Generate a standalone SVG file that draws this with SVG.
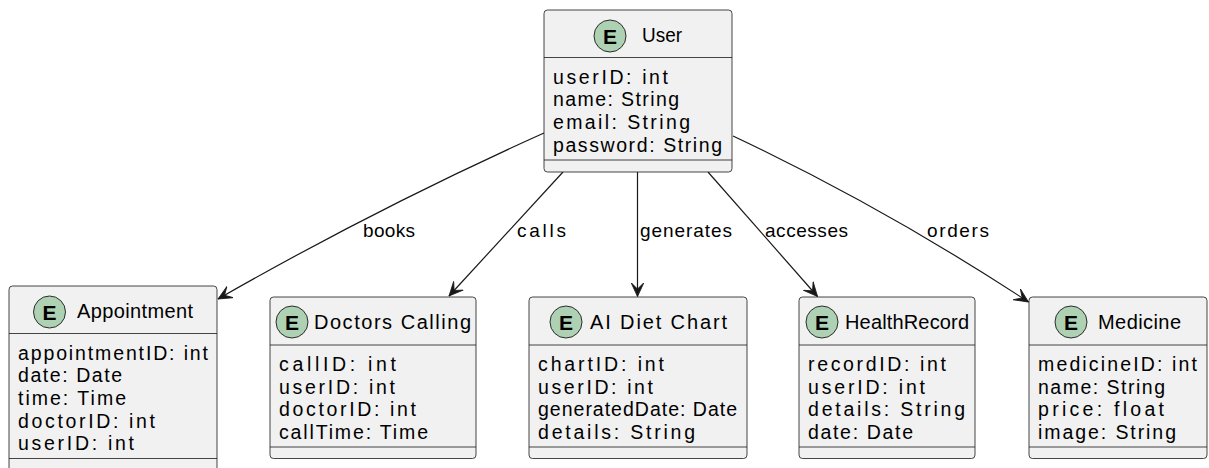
<svg xmlns="http://www.w3.org/2000/svg" width="1209" height="468" viewBox="0 0 1209 468">
  <style>
    .box { fill: #F1F1F1; stroke: #181818; stroke-width: 0.8; }
    .sep { stroke: #181818; stroke-width: 0.8; }
    .badge { fill: #ADD1B2; stroke: #181818; stroke-width: 0.9; }
    .badge-letter { font-family: "Liberation Sans", Arial, sans-serif; font-size: 21px; font-weight: bold; fill: #000; text-anchor: middle; }
    .title { font-family: "Liberation Sans", Arial, sans-serif; font-size: 20px; fill: #000; }
    .attr { font-family: "Liberation Sans", Arial, sans-serif; font-size: 19.5px; fill: #000; }
    .edge { fill: none; stroke: #181818; stroke-width: 1.2; }
    .label { font-family: "Liberation Sans", Arial, sans-serif; font-size: 19px; fill: #000; }
  </style>
  <defs>
    <marker id="arrow" markerUnits="userSpaceOnUse" viewBox="0 0 15 14" refX="14" refY="7" markerWidth="15" markerHeight="14" orient="auto">
      <path d="M14,7 L0,0.5 L6.5,7 L0,13.5 Z" fill="#181818" stroke="#181818" stroke-width="0.8" stroke-linejoin="miter"/>
    </marker>
  </defs>

  <rect width="1209" height="468" fill="#FFFFFF"/>

  <!-- relationships -->
  <g id="connectors">
    <path class="edge" marker-end="url(#arrow)" d="M544,133 C432.6,183 324,238.3 218,299"/>
    <path class="edge" marker-end="url(#arrow)" d="M563,172 L449,296"/>
    <path class="edge" marker-end="url(#arrow)" d="M637.5,172 L637.5,296.5"/>
    <path class="edge" marker-end="url(#arrow)" d="M708,172 L817.5,296.5"/>
    <path class="edge" marker-end="url(#arrow)" d="M733,136 C835.2,184.3 933.6,239.7 1028.5,302"/>
    <text class="label" x="363" y="237" textLength="52" lengthAdjust="spacing">books</text>
    <text class="label" x="517" y="237" textLength="49" lengthAdjust="spacing">calls</text>
    <text class="label" x="640" y="237" textLength="92" lengthAdjust="spacing">generates</text>
    <text class="label" x="765" y="237" textLength="83" lengthAdjust="spacing">accesses</text>
    <text class="label" x="927" y="237" textLength="62" lengthAdjust="spacing">orders</text>
  </g>

  <!-- User entity -->
  <g id="user">
    <rect class="box" x="544" y="10" width="188" height="162" rx="3.5"/>
    <circle class="badge" cx="610" cy="36" r="16"/>
    <text class="badge-letter" x="610" y="43.5">E</text>
    <text class="title" x="642" y="42" textLength="40" lengthAdjust="spacingAndGlyphs">User</text>
    <line class="sep" x1="544" y1="57.5" x2="732" y2="57.5"/>
    <text class="attr" x="553" y="83.5" textLength="115" lengthAdjust="spacing">userID: int</text>
    <text class="attr" x="553" y="106.2" textLength="126" lengthAdjust="spacing">name: String</text>
    <text class="attr" x="553" y="128.9" textLength="137" lengthAdjust="spacing">email: String</text>
    <text class="attr" x="553" y="151.6" textLength="169" lengthAdjust="spacing">password: String</text>
    <line class="sep" x1="544" y1="160" x2="732" y2="160"/>
  </g>

  <!-- Appointment entity -->
  <g id="appointment">
    <rect class="box" x="9" y="286" width="208" height="186" rx="3.5"/>
    <circle class="badge" cx="49.5" cy="312" r="16"/>
    <text class="badge-letter" x="49.5" y="319.5">E</text>
    <text class="title" x="77" y="318" textLength="116" lengthAdjust="spacing">Appointment</text>
    <line class="sep" x1="9" y1="333.5" x2="217" y2="333.5"/>
    <text class="attr" x="18" y="359.5" textLength="190" lengthAdjust="spacing">appointmentID: int</text>
    <text class="attr" x="18" y="382.2" textLength="104" lengthAdjust="spacing">date: Date</text>
    <text class="attr" x="18" y="404.9" textLength="108" lengthAdjust="spacing">time: Time</text>
    <text class="attr" x="18" y="427.6" textLength="137" lengthAdjust="spacing">doctorID: int</text>
    <text class="attr" x="18" y="450.3" textLength="116" lengthAdjust="spacing">userID: int</text>
    <line class="sep" x1="9" y1="458.5" x2="217" y2="458.5"/>
  </g>

  <!-- Doctors Calling entity -->
  <g id="doctors-calling">
    <rect class="box" x="270" y="297" width="206" height="161.5" rx="3.5"/>
    <circle class="badge" cx="292" cy="322" r="16"/>
    <text class="badge-letter" x="292" y="329.5">E</text>
    <text class="title" x="314" y="329" textLength="157" lengthAdjust="spacing">Doctors Calling</text>
    <line class="sep" x1="270" y1="345" x2="476" y2="345"/>
    <text class="attr" x="279" y="371" textLength="117" lengthAdjust="spacing">callID: int</text>
    <text class="attr" x="279" y="393.7" textLength="116" lengthAdjust="spacing">userID: int</text>
    <text class="attr" x="279" y="416.4" textLength="137" lengthAdjust="spacing">doctorID: int</text>
    <text class="attr" x="279" y="439.1" textLength="149" lengthAdjust="spacing">callTime: Time</text>
    <line class="sep" x1="270" y1="447" x2="476" y2="447"/>
  </g>

  <!-- AI Diet Chart entity -->
  <g id="ai-diet-chart">
    <rect class="box" x="529" y="297" width="218" height="161.5" rx="3.5"/>
    <circle class="badge" cx="566" cy="322" r="16"/>
    <text class="badge-letter" x="566" y="329.5">E</text>
    <text class="title" x="590" y="329" textLength="137" lengthAdjust="spacing">AI Diet Chart</text>
    <line class="sep" x1="529" y1="345" x2="747" y2="345"/>
    <text class="attr" x="538" y="371" textLength="126" lengthAdjust="spacing">chartID: int</text>
    <text class="attr" x="538" y="393.7" textLength="115" lengthAdjust="spacing">userID: int</text>
    <text class="attr" x="538" y="416.4" textLength="199" lengthAdjust="spacing">generatedDate: Date</text>
    <text class="attr" x="538" y="439.1" textLength="157" lengthAdjust="spacing">details: String</text>
    <line class="sep" x1="529" y1="447" x2="747" y2="447"/>
  </g>

  <!-- HealthRecord entity -->
  <g id="health-record">
    <rect class="box" x="799" y="297" width="176" height="161.5" rx="3.5"/>
    <circle class="badge" cx="822" cy="322" r="16"/>
    <text class="badge-letter" x="822" y="329.5">E</text>
    <text class="title" x="845" y="329" textLength="124" lengthAdjust="spacing">HealthRecord</text>
    <line class="sep" x1="799" y1="345" x2="975" y2="345"/>
    <text class="attr" x="808" y="371" textLength="138" lengthAdjust="spacing">recordID: int</text>
    <text class="attr" x="808" y="393.7" textLength="117" lengthAdjust="spacing">userID: int</text>
    <text class="attr" x="808" y="416.4" textLength="157" lengthAdjust="spacing">details: String</text>
    <text class="attr" x="808" y="439.1" textLength="105" lengthAdjust="spacing">date: Date</text>
    <line class="sep" x1="799" y1="447" x2="975" y2="447"/>
  </g>

  <!-- Medicine entity -->
  <g id="medicine">
    <rect class="box" x="1029" y="297" width="178" height="161.5" rx="3.5"/>
    <circle class="badge" cx="1071" cy="322" r="16"/>
    <text class="badge-letter" x="1071" y="329.5">E</text>
    <text class="title" x="1098" y="329" textLength="83" lengthAdjust="spacing">Medicine</text>
    <line class="sep" x1="1029" y1="345" x2="1207" y2="345"/>
    <text class="attr" x="1038" y="371" textLength="159" lengthAdjust="spacing">medicineID: int</text>
    <text class="attr" x="1038" y="393.7" textLength="127" lengthAdjust="spacing">name: String</text>
    <text class="attr" x="1038" y="416.4" textLength="126" lengthAdjust="spacing">price: float</text>
    <text class="attr" x="1038" y="439.1" textLength="138" lengthAdjust="spacing">image: String</text>
    <line class="sep" x1="1029" y1="447" x2="1207" y2="447"/>
  </g>
</svg>
